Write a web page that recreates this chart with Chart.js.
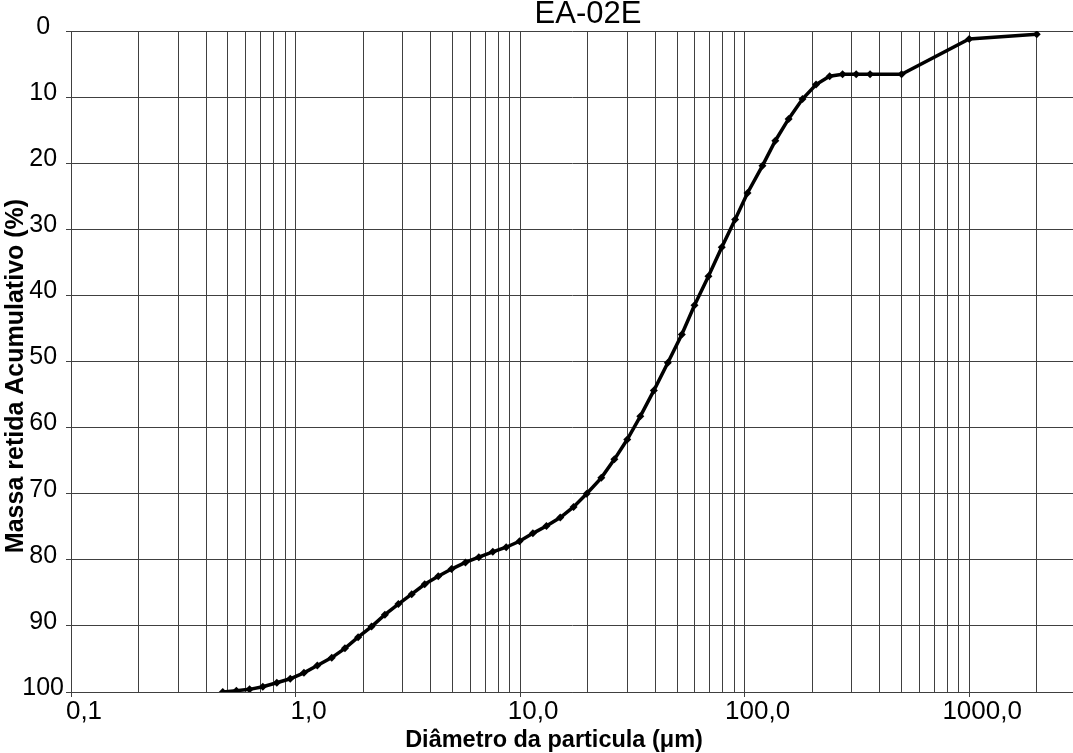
<!DOCTYPE html>
<html>
<head>
<meta charset="utf-8">
<script src="https://cdn.jsdelivr.net/npm/chart.js@4/dist/chart.umd.min.js"></script>
<style>
    html, body { margin: 0; padding: 0; background: #ffffff; }
    canvas { display: block; }
</style>
</head>
<body>
<canvas id="chart-granulometria" width="1073" height="753"></canvas>
<script>
// Diâmetro (µm) de cada ponto medido
var diametros = [0.474, 0.545, 0.624, 0.715, 0.825, 0.947, 1.09, 1.25, 1.45, 1.66,
    1.90, 2.18, 2.50, 2.87, 3.29, 3.76, 4.32, 4.95, 5.71, 6.55,
    7.56, 8.67, 9.94, 11.4, 13.1, 15.1, 17.3, 19.8, 23.0, 26.3,
    30.0, 34.3, 39.4, 45.5, 52.5, 59.8, 69.0, 79.1, 90.7, 103,
    120, 137, 157, 181, 208, 239, 273, 314, 362, 500,
    1000, 2000];

// Massa retida acumulada (%)
var massaRetida = [100, 99.8, 99.6, 99.2, 98.6, 98.0, 97.1, 96.0, 94.8, 93.4,
    91.7, 90.1, 88.3, 86.7, 85.2, 83.7, 82.5, 81.4, 80.4, 79.6,
    78.8, 78.1, 77.2, 76.0, 74.9, 73.6, 72.0, 70.0, 67.6, 64.8,
    61.8, 58.3, 54.4, 50.2, 45.9, 41.5, 37.1, 32.7, 28.5, 24.5,
    20.4, 16.6, 13.3, 10.3, 8.1, 6.85, 6.55, 6.55, 6.55, 6.55,
    1.2, 0.5];

// Décadas do eixo x (as que levam rótulo)
var decadas = [0.1, 1, 10, 100, 1000];
var titulo = 'EA-02E';
var tituloX = 'Diâmetro da particula (\u03bcm)';
var tituloY = 'Massa retida Acumulativo (%)';

var fonte = "'Liberation Sans', Arial, sans-serif";
var corGrade = '#404040';

renderGranulometria();

function renderGranulometria() {
    var pontos = diametros.map(function (d, i) {
        return {x: d, y: massaRetida[i]};
    });

    //linhas de grade: 1..9 de cada década, até 2000
    var grade = [];
    decadas.forEach(function (dec) {
        for (var k = 1; k <= 9; k++) {
            var v = +(dec * k).toPrecision(3);
            if (v <= 2000) grade.push(v);
        }
    });

    function ehDecada(v) {
        return decadas.indexOf(v) >= 0;
    }

    //Titulos desenhados a mao (posicoes do original)
    var titulos = {
        id: 'titulos',
        afterDraw: function (chart) {
            var ctx = chart.ctx;
            ctx.save();
            ctx.fillStyle = '#000';
            ctx.textAlign = 'center';
            ctx.textBaseline = 'alphabetic';
            ctx.font = '31px ' + fonte;
            ctx.fillText(titulo, 588, 23);

            ctx.font = 'bold 23.5px ' + fonte;
            ctx.fillText(tituloX, 554, 747);

            ctx.translate(23, 376);
            ctx.rotate(-Math.PI / 2);
            ctx.font = 'bold 25px ' + fonte;
            ctx.fillText(tituloY, 0, 0);
            ctx.restore();
        }
    };

    var ctx_gran = document.getElementById('chart-granulometria');

    var chartGran = new Chart(ctx_gran, {
        type: 'line',
        data: {
            datasets: [{
                data: pontos,
                borderColor: '#000',
                backgroundColor: '#000',
                borderWidth: 3.5,
                pointStyle: 'rectRot',
                pointRadius: 4,
                pointBorderWidth: 0,
                tension: 0
            }]
        },
        plugins: [titulos],
        options: {
            responsive: false,
            animation: false,
            layout: {autoPadding: false, padding: {top: 31, left: 0, right: 0, bottom: 0}},
            plugins: {
                legend: {display: false},
                tooltip: {enabled: false}
            },
            scales: {
                x: {
                    type: 'logarithmic',
                    min: 0.1,
                    max: 2900,
                    afterBuildTicks: function (scale) {
                        scale.ticks = grade.map(function (v) {
                            return {value: v, major: ehDecada(v)};
                        });
                    },
                    afterFit: function (scale) {
                        scale.height = 61;
                    },
                    border: {color: corGrade},
                    grid: {
                        color: corGrade,
                        lineWidth: 1,
                        tickLength: 5,
                        tickColor: function (c) {
                            return ehDecada(c.tick.value) ? corGrade : 'rgba(0,0,0,0)';
                        }
                    },
                    ticks: {
                        autoSkip: false,
                        maxRotation: 0,
                        padding: -1,
                        labelOffset: 13,
                        color: '#000',
                        font: {family: fonte, size: 26},
                        callback: function (v) {
                            if (!ehDecada(v)) return '';
                            return v.toFixed(1).replace('.', ',');
                        }
                    }
                },
                y: {
                    reverse: true,
                    min: 0,
                    max: 100,
                    afterFit: function (scale) {
                        scale.width = 71;
                    },
                    border: {color: corGrade},
                    grid: {color: corGrade, lineWidth: 1, tickLength: 5},
                    ticks: {
                        stepSize: 10,
                        padding: 2,
                        crossAlign: 'center',
                        labelOffset: -4,
                        color: '#000',
                        font: {family: fonte, size: 25}
                    }
                }
            }
        }
    });
}
</script>
</body>
</html>
